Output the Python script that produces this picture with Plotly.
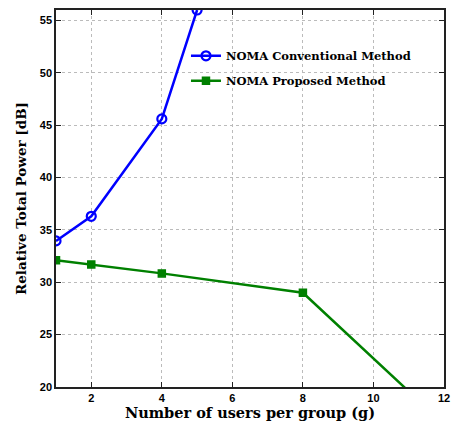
import plotly.graph_objects as go

x_conv = [1, 2, 4, 5]
y_conv = [33.95, 36.3, 45.6, 56.0]
x_prop = [1, 2, 4, 8, 12]
y_prop = [32.1, 31.7, 30.85, 29.0, 16.45]

x_ticks = [2, 4, 6, 8, 10, 12]
y_ticks = [20, 25, 30, 35, 40, 45, 50, 55]

serif = "DejaVu Serif"
sans = "Liberation Sans"

fig = go.Figure()
fig.add_trace(go.Scatter(
    x=x_conv, y=y_conv, mode="lines+markers",
    name="<b>NOMA Conventional Method</b>", legendgroup="a",
    line=dict(color="#0000ff", width=2.5),
    marker=dict(symbol="circle-open", size=9, color="#0000ff", line=dict(width=2.2)),
))
fig.add_trace(go.Scatter(
    x=x_prop, y=y_prop, mode="lines+markers",
    name="<b>NOMA Proposed Method</b>", legendgroup="b",
    line=dict(color="#008000", width=2.5),
    marker=dict(symbol="square", size=7, color="#008000", line=dict(width=1.5, color="#008000")),
))

axis_common = dict(
    showline=True, linecolor="#222", linewidth=1.5, mirror="ticks",
    ticks="inside", ticklen=5, tickcolor="#222",
    showgrid=True, gridcolor="#bbbbbb", griddash="dot", gridwidth=1,
    zeroline=False, ticklabeloverflow="allow",
    tickfont=dict(family=sans, size=11, color="#000", weight="bold"),
)

fig.update_xaxes(range=[1, 12], tickvals=x_ticks, **axis_common,
                 title=dict(text="<b>Number of users per group (g)</b>",
                            font=dict(family=serif, size=14.5, color="#000"), standoff=1))
fig.update_yaxes(range=[20, 56], tickvals=y_ticks, **axis_common,
                 title=dict(text="<b>Relative Total Power [dB]</b>",
                            font=dict(family=serif, size=13.5, color="#000"), standoff=10))

fig.update_layout(
    width=455, height=423,
    margin=dict(l=56, r=5, t=10, b=36),
    plot_bgcolor="white", paper_bgcolor="white",
    legend=dict(x=0.335, y=0.917, xanchor="left", yanchor="top",
                bgcolor="rgba(255,255,255,0)",
                font=dict(family=serif, size=11.5, color="#000"),
                itemwidth=30, tracegroupgap=6),
)

fig.write_html("out.html", config={"displayModeBar": False},
               post_script="document.body.style.margin='0';document.body.style.overflow='hidden';")
